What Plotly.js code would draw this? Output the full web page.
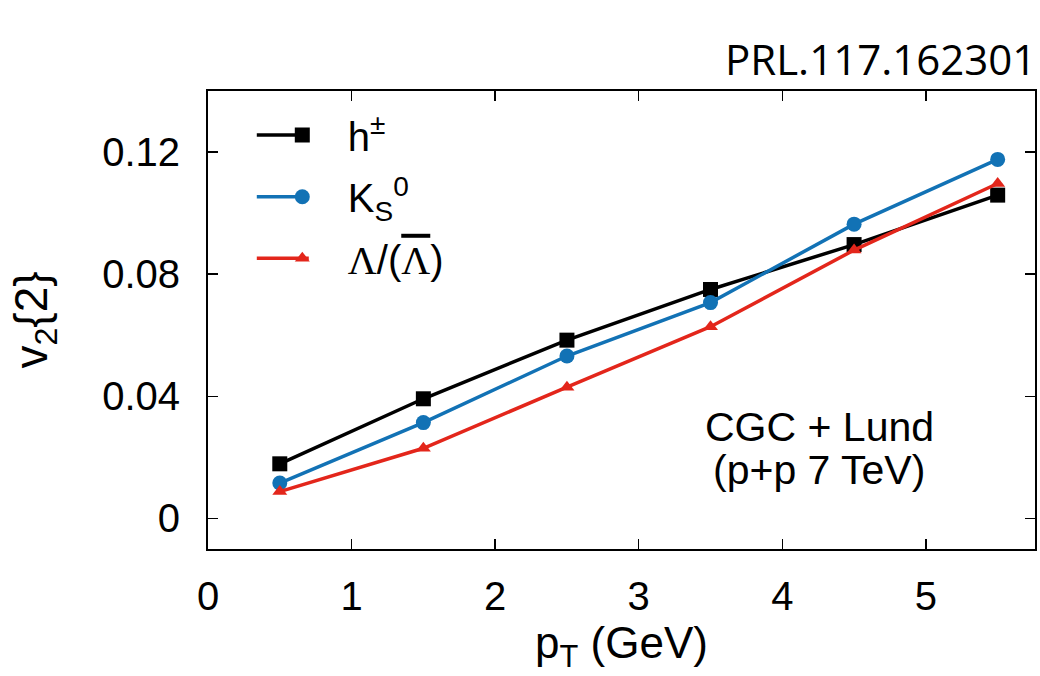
<!DOCTYPE html>
<html><head><meta charset="utf-8">
<script src="https://cdn.plot.ly/plotly-3.0.1.min.js"></script>
<style>html,body{margin:0;padding:0;background:#fff;}</style>
</head><body>
<div id="chart" style="width:1040px;height:676px;"></div>
<script>
const pT = [0.5, 1.5, 2.5, 3.5, 4.5, 5.5];
const v2_h = [0.0179, 0.0392, 0.0584, 0.0750, 0.0897, 0.1059];
const v2_K = [0.0116, 0.0314, 0.0532, 0.0707, 0.0964, 0.1176];
const v2_L = [0.0088, 0.0230, 0.0430, 0.0628, 0.0879, 0.1097];
const seriesNames = ['h<sup>±</sup>', 'K<sub>S</sub><sup>0</sup>', '<span style="font-family:\'Liberation Serif\'">Λ</span>/(<span style="font-family:\'Liberation Serif\';text-decoration:overline">Λ</span>)'];
const xTicks = [0, 1, 2, 3, 4, 5];
const yTicks = [0, 0.04, 0.08, 0.12];
const yTickText = ['0', '0.04', '0.08', '0.12'];

const font = 'Liberation Sans, Arial, sans-serif';
const traces = [
  {x: pT, y: v2_h, name: seriesNames[0], legend: 'legend', mode: 'lines+markers', line: {color: '#000000', width: 3.5}, marker: {symbol: 'square', size: 15, color: '#000000'}},
  {x: pT, y: v2_K, name: seriesNames[1], legend: 'legend2', mode: 'lines+markers', line: {color: '#1272b5', width: 3.5}, marker: {symbol: 'circle', size: 15, color: '#1272b5'}},
  {x: pT, y: v2_L, name: seriesNames[2], legend: 'legend3', mode: 'lines+markers', line: {color: '#e3261b', width: 3.5}, marker: {symbol: 'triangle-up', size: 13, color: '#e3261b'}}
];
const axisCommon = {showline: true, linewidth: 2, linecolor: '#000', mirror: 'ticks', ticks: 'inside', ticklen: 10, tickwidth: 1.5, tickcolor: '#000', showgrid: false, zeroline: false, tickfont: {family: font, size: 40, color: '#000'}};
const legendCommon = {xanchor: 'left', yanchor: 'middle', bgcolor: 'rgba(0,0,0,0)', font: {family: font, size: 40, color: '#000'}, itemwidth: 81};
const layout = {
  width: 1040, height: 676,
  margin: {l: 208, r: 5, t: 91, b: 127},
  paper_bgcolor: '#fff', plot_bgcolor: '#fff',
  font: {family: font, color: '#000'},
  xaxis: Object.assign({}, axisCommon, {range: [0, 5.76], tickvals: xTicks, ticktext: xTicks.map(String), ticklabelstandoff: 11,
    title: {text: 'p<sub>T</sub> (GeV)', font: {family: font, size: 44, color: '#000'}, standoff: 4}}),
  yaxis: Object.assign({}, axisCommon, {range: [-0.01, 0.14], tickvals: yTicks, ticktext: yTickText, ticklabelstandoff: 18,
    title: {text: 'v<sub>2</sub>{2}', font: {family: font, size: 46, color: '#000'}, standoff: 40}}),
  legend: Object.assign({}, legendCommon, {x: 0.059, y: 0.904}),
  legend2: Object.assign({}, legendCommon, {x: 0.059, y: 0.769}),
  legend3: Object.assign({}, legendCommon, {x: 0.059, y: 0.635}),
  showlegend: true,
  annotations: [
    {xref: 'paper', yref: 'paper', x: 1.0, y: 1.0, xanchor: 'right', yanchor: 'bottom', xshift: 3, yshift: 2, text: 'PRL.117.162301', showarrow: false, font: {family: 'Open Sans, Noto Sans, sans-serif', size: 42, color: '#000'}},
    {xref: 'paper', yref: 'paper', x: 0.739, y: 0.2656, xanchor: 'center', yanchor: 'middle', text: 'CGC + Lund', showarrow: false, font: {family: font, size: 41, color: '#000'}},
    {xref: 'paper', yref: 'paper', x: 0.739, y: 0.1717, xanchor: 'center', yanchor: 'middle', text: '(p+p 7 TeV)', showarrow: false, font: {family: font, size: 41, color: '#000'}}
  ]
};
Plotly.newPlot('chart', traces, layout, {displayModeBar: false, staticPlot: true}).then(function (gd) {
  // lengthen legend line samples, centred on the marker
  gd.querySelectorAll('.legendlines path').forEach(function (p) {
    p.setAttribute('d', 'M-12,0h64');
    p.style.strokeWidth = '3.5px';
  });
});
</script>
</body></html>
